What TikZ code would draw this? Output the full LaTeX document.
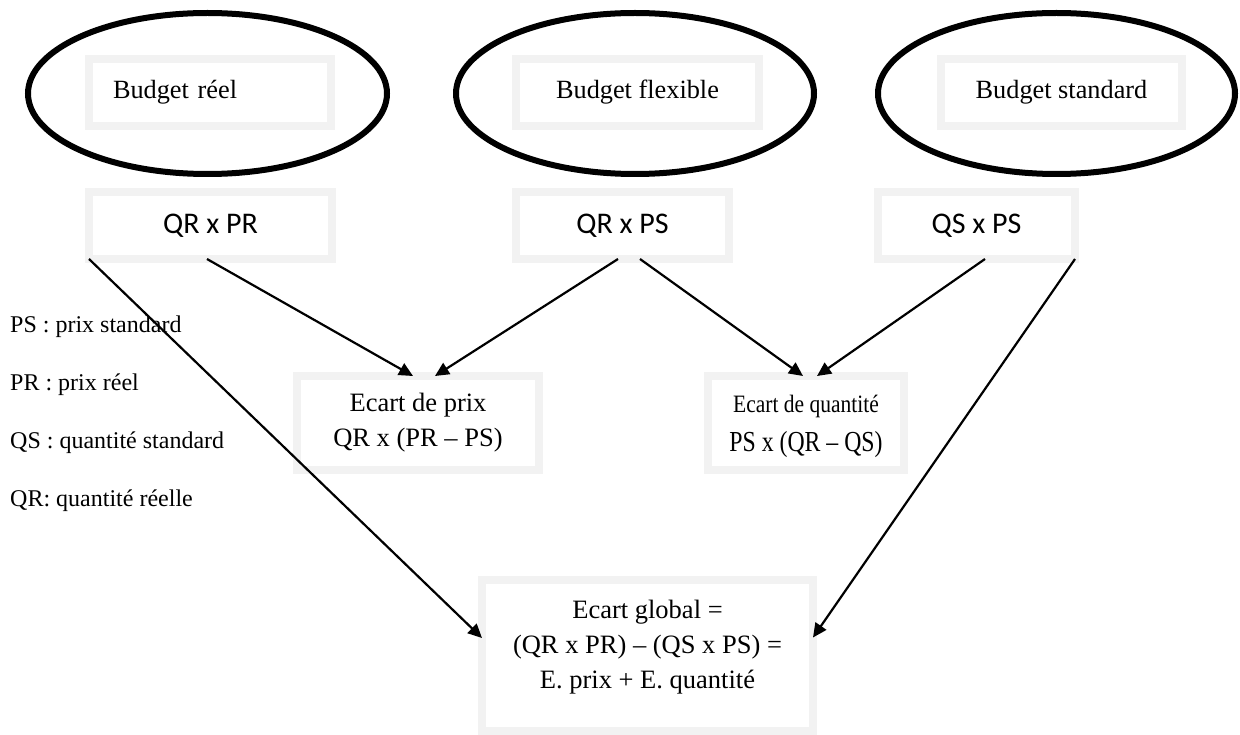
\documentclass[tikz,border=0pt]{standalone}
\usepackage{fontspec}
\setmainfont{Liberation Serif}
\newfontfamily\calibri{Carlito}
\usetikzlibrary{arrows.meta,shapes.geometric,calc}

\definecolor{boxgray}{HTML}{F2F2F2}

\tikzset{
  frame/.style={rectangle, draw=boxgray, line width=7.3pt, fill=white,
                inner sep=0pt, outer sep=0pt, align=center,
                font=\fontsize{26.5}{35}\selectfont},
  budget/.style={ellipse, draw=black, line width=6pt, inner sep=0pt, outer sep=0pt},
  product/.style={frame, font=\calibri\fontsize{30}{36}\selectfont},
  flow/.style={draw=black, line width=2.2pt, -{Triangle[length=14pt,width=13pt]}},
  legend/.style={anchor=base west, inner sep=0pt, font=\fontsize{24}{28}\selectfont},
}

\begin{document}
\begin{tikzpicture}[x=1pt,y=-1pt]
\useasboundingbox (0,0) rectangle (1240,735);

% the three budgets
\node[budget, minimum width=359pt, minimum height=161pt] (e1) at (207.5,93.5) {};
\node[budget, minimum width=358pt, minimum height=161pt] (e2) at (635,93.5) {};
\node[budget, minimum width=357pt, minimum height=161pt] (e3) at (1056.5,93.5) {};

\node[frame, minimum height=67pt, text width=194pt, inner xsep=24pt, align=left,
      font=\fontsize{26.3}{32}\selectfont] (b1) at (210,92.5) {Budget réel};
\node[frame, minimum width=243pt, minimum height=67pt,
      font=\fontsize{26.3}{32}\selectfont] (b2) at (637.5,92.5) {Budget flexible};
\node[frame, minimum width=241pt, minimum height=67pt,
      font=\fontsize{26.3}{32}\selectfont] (b3) at (1061.5,92.5) {Budget standard};

% quantity x price products
\node[product, minimum width=243pt, minimum height=67pt] (r1) at (210.5,225.5) {QR x PR};
\node[product, minimum width=213pt, minimum height=67pt] (r2) at (622.5,225.5) {QR x PS};
\node[product, minimum width=197pt, minimum height=67pt] (r3) at (976.5,225.5) {QS x PS};

% variances
\node[frame, minimum width=242pt, minimum height=94pt] (prix) at (418,423)
  {Ecart de prix\\QR x (PR – PS)};
\node[frame, minimum width=196pt, minimum height=94pt] (qte) at (806,423)
  {\rule{0pt}{24.7pt}\scalebox{0.86}[1]{\fontsize{25}{30}\selectfont Ecart de quantité}\\[4pt]
   \scalebox{0.82}[1]{\fontsize{29}{35}\selectfont PS x (QR – QS)}};
\node[frame, minimum width=331pt, minimum height=151pt] (glob) at (647.5,655.5)
  {Ecart global =\\(QR x PR) – (QS x PS) =\\E. prix + E. quantité\rule[-22.8pt]{0pt}{0pt}};

% abbreviations
\node[legend] (l1) at (10,333) {PS : prix standard};
\node[legend] (l2) at (10,391) {PR : prix réel};
\node[legend] (l3) at (10,448) {QS : quantité standard};
\node[legend] (l4) at (10,506) {QR: quantité réelle};

% connectors
\draw[flow] (r1.south west) -- ([yshift=17.5pt]glob.west);
\draw[flow] ([xshift=-3.5pt]r1.south) -- ([xshift=-5pt]prix.north);
\draw[flow] ([xshift=-4.5pt]r2.south) -- ([xshift=17pt]prix.north);
\draw[flow] ([xshift=17.5pt]r2.south) -- ([xshift=-3pt]qte.north);
\draw[flow] ([xshift=8.5pt]r3.south) -- ([xshift=11pt]qte.north);
\draw[flow] (r3.south east) -- ([yshift=18pt]glob.east);
\end{tikzpicture}
\end{document}
